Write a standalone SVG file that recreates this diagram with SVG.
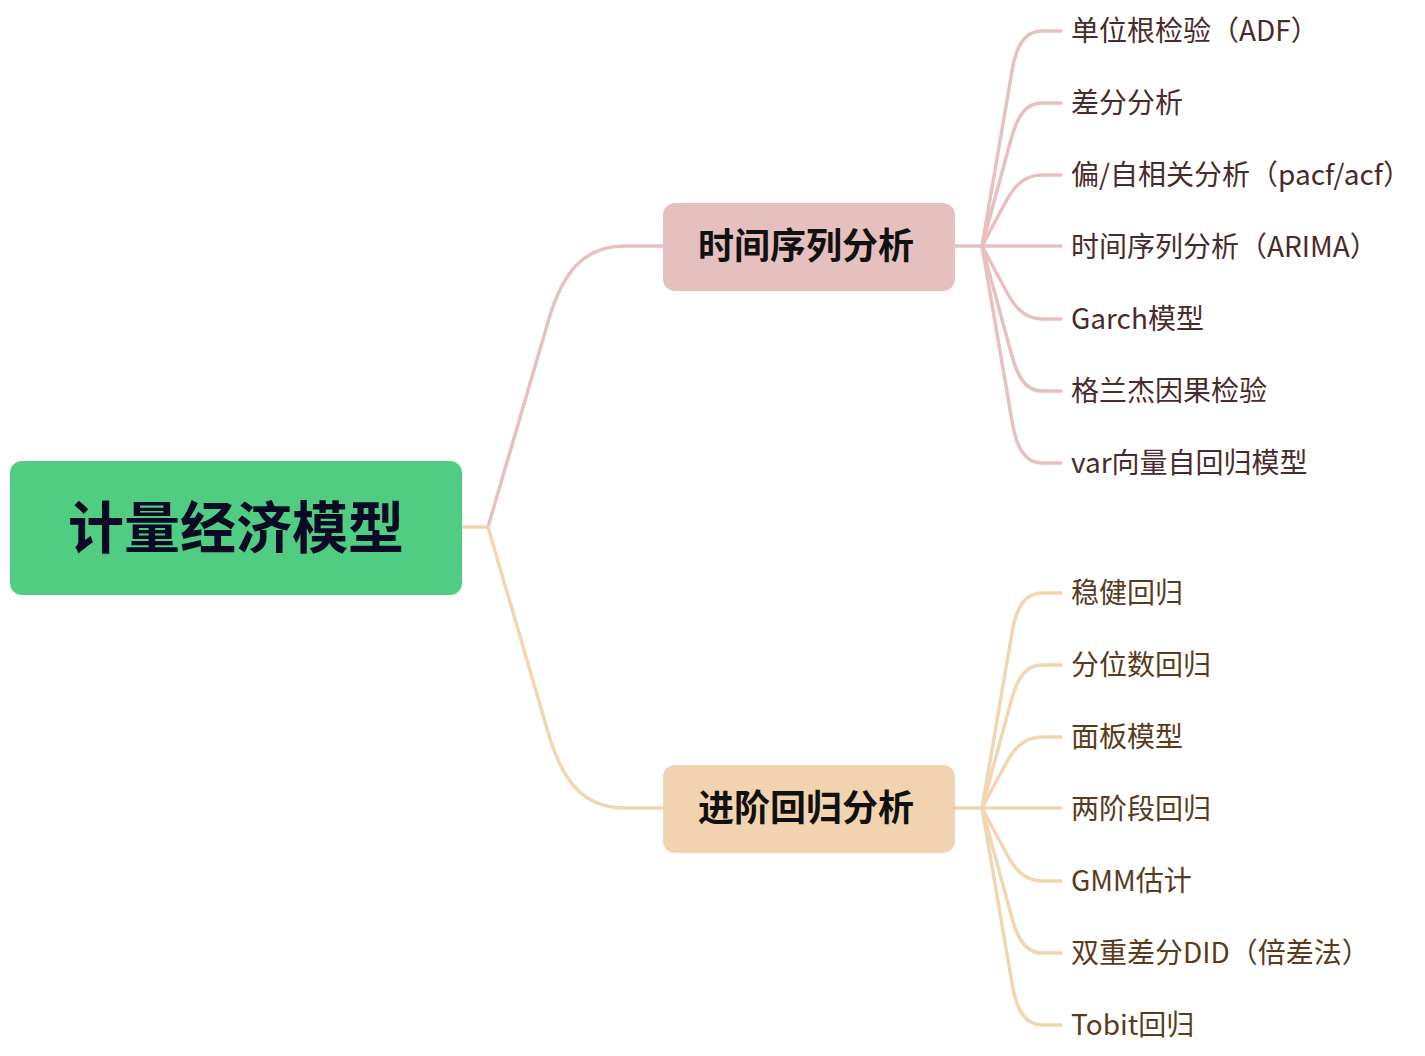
<svg xmlns="http://www.w3.org/2000/svg" width="1425" height="1056" viewBox="0 0 1425 1056">
<style>
  .c{fill:none;stroke-width:3.5;stroke-linecap:round;stroke-linejoin:round}
  .pk{stroke:#e6c1c0}
  .or{stroke:#f2d6b3}
  .leaf{font-family:"Noto Sans CJK SC","Noto Sans",sans-serif;font-size:28px}
  .lp{fill:#4a2b2b}
  .lo{fill:#5a3b1c}
  .mid{font-family:"Noto Sans CJK SC","Noto Sans",sans-serif;font-size:36px;font-weight:bold;fill:#111111;text-anchor:middle}
</style>
<rect width="1425" height="1056" fill="#ffffff"/>
<g id="connectors">
  <path class="c or" d="M462,527 L488,527"/>
  <path class="c pk" d="M488,527 L548,322 C563,270 585,246 625,246 L663,246"/>
  <path class="c or" d="M488,527 L548,732 C563,784 585,808 625,808 L663,808"/>
  <g class="pk">
    <path class="c pk" d="M955,246 L1061,246"/>
    <path class="c pk" d="M982,246 L1012,71 C1014.5,56 1020,31 1042,31 L1061,31"/>
    <path class="c pk" d="M982,246 L1010,143 C1014,128.5 1020,103 1042,103 L1061,103"/>
    <path class="c pk" d="M982,246 L1004,205 C1011,192 1020,175 1042,175 L1061,175"/>
    <path class="c pk" d="M982,246 L1004,287 C1011,300 1020,319 1042,319 L1061,319"/>
    <path class="c pk" d="M982,246 L1010,349 C1014,363.5 1020,391 1042,391 L1061,391"/>
    <path class="c pk" d="M982,246 L1012,421 C1014.5,436 1020,463 1042,463 L1061,463"/>
  </g>
  <g>
    <path class="c or" d="M955,808 L1061,808"/>
    <path class="c or" d="M982,808 L1012,633 C1014.5,618 1020,593 1042,593 L1061,593"/>
    <path class="c or" d="M982,808 L1010,705 C1014,690.5 1020,665 1042,665 L1061,665"/>
    <path class="c or" d="M982,808 L1004,767 C1011,754 1020,737 1042,737 L1061,737"/>
    <path class="c or" d="M982,808 L1004,849 C1011,862 1020,881 1042,881 L1061,881"/>
    <path class="c or" d="M982,808 L1010,911 C1014,925.5 1020,953 1042,953 L1061,953"/>
    <path class="c or" d="M982,808 L1012,983 C1014.5,998 1020,1025 1042,1025 L1061,1025"/>
  </g>
</g>
<g id="root">
  <rect x="10" y="461" width="452" height="134" rx="12" fill="#51cc83"/>
  <text x="236" y="548" font-family="'Noto Sans CJK SC','Noto Sans',sans-serif" font-size="56" font-weight="bold" fill="#0b0a24" text-anchor="middle">计量经济模型</text>
</g>
<g id="node-time-series">
  <rect x="663" y="203" width="292" height="88" rx="12" fill="#e6c0bf"/>
  <text class="mid" x="806" y="259">时间序列分析</text>
</g>
<g id="node-regression">
  <rect x="663" y="765" width="292" height="88" rx="12" fill="#f2d3b0"/>
  <text class="mid" x="806" y="821">进阶回归分析</text>
</g>
<g id="leaf-adf"><text class="leaf lp" x="1071" y="41">单位根检验（ADF）</text></g>
<g id="leaf-diff"><text class="leaf lp" x="1071" y="113">差分分析</text></g>
<g id="leaf-pacf"><text class="leaf lp" x="1071" y="185">偏/自相关分析（pacf/acf）</text></g>
<g id="leaf-arima"><text class="leaf lp" x="1071" y="257">时间序列分析（ARIMA）</text></g>
<g id="leaf-garch"><text class="leaf lp" x="1071" y="329">Garch模型</text></g>
<g id="leaf-granger"><text class="leaf lp" x="1071" y="401">格兰杰因果检验</text></g>
<g id="leaf-var"><text class="leaf lp" x="1071" y="473">var向量自回归模型</text></g>
<g id="leaf-robust"><text class="leaf lo" x="1071" y="603">稳健回归</text></g>
<g id="leaf-quantile"><text class="leaf lo" x="1071" y="675">分位数回归</text></g>
<g id="leaf-panel"><text class="leaf lo" x="1071" y="747">面板模型</text></g>
<g id="leaf-2sls"><text class="leaf lo" x="1071" y="819">两阶段回归</text></g>
<g id="leaf-gmm"><text class="leaf lo" x="1071" y="891">GMM估计</text></g>
<g id="leaf-did"><text class="leaf lo" x="1071" y="963">双重差分DID（倍差法）</text></g>
<g id="leaf-tobit"><text class="leaf lo" x="1071" y="1035">Tobit回归</text></g>
</svg>
